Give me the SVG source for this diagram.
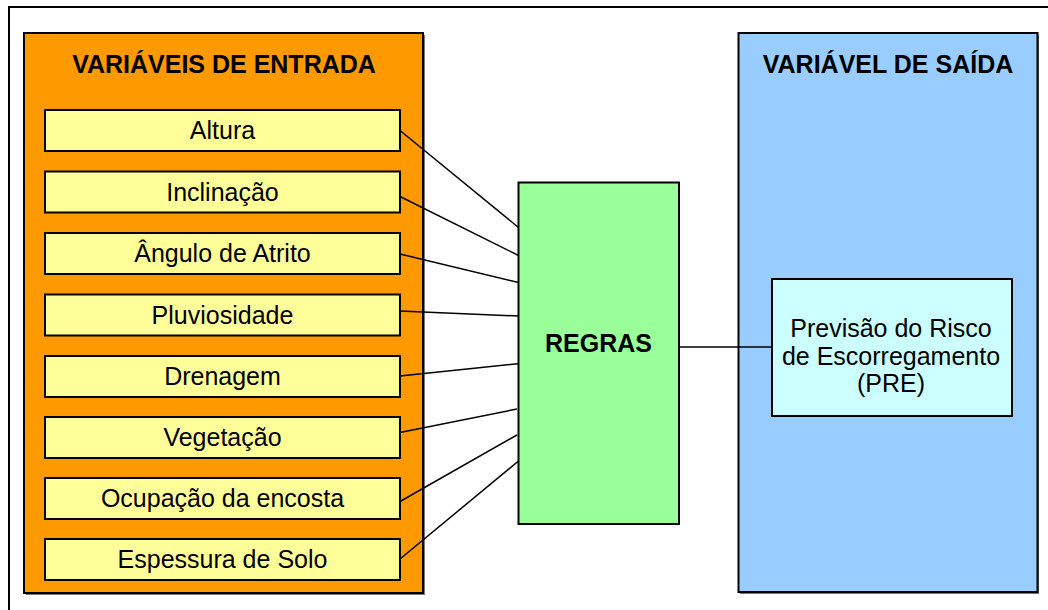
<svg xmlns="http://www.w3.org/2000/svg" width="1048" height="610" viewBox="0 0 1048 610">
<style>
.box{stroke:#000;stroke-width:2}
.in{fill:#FFFF99}
.t{font-family:"Liberation Sans",Arial,sans-serif;font-size:25px;fill:#000;text-anchor:middle}
.b{font-weight:bold}
.c{stroke:#000;stroke-width:1.5;fill:none}
.sh{fill:#777}
</style>
<rect width="1048" height="610" fill="#fff"/>
<g id="frame">
<path d="M9,610 V7 H1048" fill="none" stroke="#000" stroke-width="2"/>
</g>
<g id="entrada">
<rect class="sh" x="26" y="35" width="399" height="560"/>
<rect class="box" x="24" y="33" width="399" height="560" fill="#FF9900"/>
<text class="t b" x="224" y="73">VARIÁVEIS DE ENTRADA</text>
</g>
<g id="saida">
<rect class="sh" x="740" y="35" width="299" height="559"/>
<rect class="box" x="738.5" y="33" width="299" height="559" fill="#99CCFF"/>
<text class="t b" x="888" y="73">VARIÁVEL DE SAÍDA</text>
</g>
<g id="n-altura"><rect class="box in" x="45" y="110" width="355" height="41"/><text class="t" x="222.5" y="139">Altura</text></g>
<g id="n-inclinacao"><rect class="box in" x="45" y="171.5" width="355" height="41"/><text class="t" x="222.5" y="200.5">Inclinação</text></g>
<g id="n-angulo"><rect class="box in" x="45" y="233" width="355" height="41"/><text class="t" x="222.5" y="262">Ângulo de Atrito</text></g>
<g id="n-pluviosidade"><rect class="box in" x="45" y="294.5" width="355" height="41"/><text class="t" x="222.5" y="323.5">Pluviosidade</text></g>
<g id="n-drenagem"><rect class="box in" x="45" y="356" width="355" height="41"/><text class="t" x="222.5" y="385">Drenagem</text></g>
<g id="n-vegetacao"><rect class="box in" x="45" y="417" width="355" height="41"/><text class="t" x="222.5" y="446">Vegetação</text></g>
<g id="n-ocupacao"><rect class="box in" x="45" y="478" width="355" height="41"/><text class="t" x="222.5" y="507">Ocupação da encosta</text></g>
<g id="n-espessura"><rect class="box in" x="45" y="539" width="355" height="41"/><text class="t" x="222.5" y="568">Espessura de Solo</text></g>
<g id="connectors">
<line class="c" x1="400" y1="130.5" x2="518.5" y2="227.5"/>
<line class="c" x1="400" y1="196.5" x2="518.5" y2="255.5"/>
<line class="c" x1="400" y1="254" x2="518.5" y2="282.5"/>
<line class="c" x1="400" y1="311" x2="518.5" y2="316"/>
<line class="c" x1="400" y1="376" x2="520" y2="363.5"/>
<line class="c" x1="400" y1="432.5" x2="517" y2="409"/>
<line class="c" x1="400" y1="501.5" x2="517" y2="435"/>
<line class="c" x1="400" y1="559" x2="518.5" y2="461"/>
<line class="c" x1="679" y1="347" x2="772" y2="347"/>
</g>
<g id="regras">
<rect class="box" x="518.5" y="182.5" width="160.5" height="341.5" fill="#99FF99"/>
<text class="t b" x="598.5" y="352">REGRAS</text>
</g>
<g id="pre">
<rect class="box" x="772" y="279" width="240" height="137" fill="#CCFFFF"/>
<text class="t" x="891" y="337">Previsão do Risco</text>
<text class="t" x="891" y="364.5">de Escorregamento</text>
<text class="t" x="891" y="391.5">(PRE)</text>
</g>
</svg>
